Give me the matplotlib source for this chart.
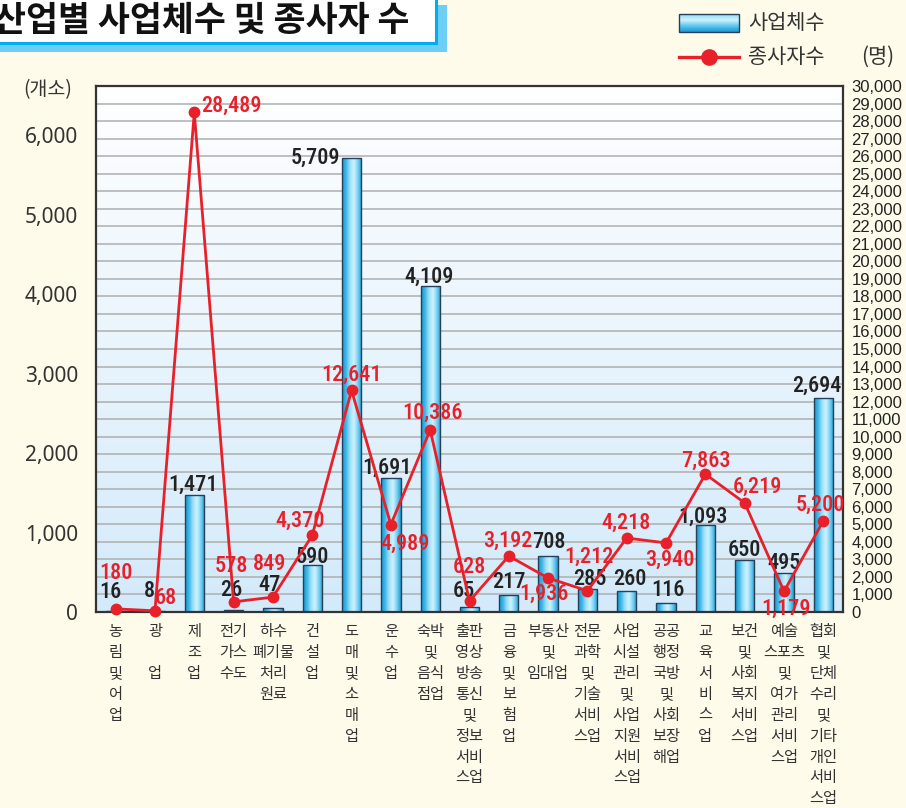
import os
import numpy as np
import matplotlib
matplotlib.use('Agg')
import matplotlib.pyplot as plt
from matplotlib import font_manager
from matplotlib.font_manager import FontProperties
from matplotlib.patches import Rectangle
from matplotlib.colors import LinearSegmentedColormap

# ---------------- data ----------------
categories = [
    "농\n림\n및\n어\n업", "광\n \n업", "제\n조\n업", "전기\n가스\n수도",
    "하수\n폐기물\n처리\n원료", "건\n설\n업", "도\n매\n및\n소\n매\n업", "운\n수\n업",
    "숙박\n및\n음식\n점업", "출판\n영상\n방송\n통신\n및\n정보\n서비\n스업",
    "금\n융\n및\n보\n험\n업", "부동산\n및\n임대업", "전문\n과학\n및\n기술\n서비\n스업",
    "사업\n시설\n관리\n및\n사업\n지원\n서비\n스업", "공공\n행정\n국방\n및\n사회\n보장\n해업",
    "교\n육\n서\n비\n스\n업", "보건\n및\n사회\n복지\n서비\n스업",
    "예술\n스포츠\n및\n여가\n관리\n서비\n스업",
    "협회\n및\n단체\n수리\n및\n기타\n개인\n서비\n스업",
]
establishments = [16, 8, 1471, 26, 47, 590, 5709, 1691, 4109, 65, 217, 708,
                  285, 260, 116, 1093, 650, 495, 2694]
workers = [180, 68, 28489, 578, 849, 4370, 12641, 4989, 10386, 628, 3192, 1936,
           1212, 4218, 3940, 7863, 6219, 1179, 5200]
left_ticks = [0, 1000, 2000, 3000, 4000, 5000, 6000]
right_ticks = list(range(0, 30001, 1000))
title = "산업별 사업체수 및 종사자 수"
legend_bar = "사업체수"
legend_line = "종사자수"
left_unit = "(개소)"
right_unit = "(명)"

# ---------------- layout / style ----------------
bar_lbl_off = [(-5, 19), (-6, 20), (-1, 10), (-2, 20), (-3, 23), (0, 8), (-11, 1),
               (-4, 10), (-1, 9), (-6, 16), (0, 13), (1, 14), (2, 10), (3, 12),
               (2, 13), (-2, 8), (0, 10), (0, 10), (-7, 12)]
bar_lbl_ha = ['center'] * 19
bar_lbl_ha[6] = 'right'
line_lbl_off = [(0, 36), (11, 13), (7, 7), (-2, 36), (-3, 33), (-12, 15), (0, 16),
                (14, -19), (2, 17), (0, 34), (-1, 15), (-4, -16), (1, 34), (-1, 15),
                (4, -17), (0, 13), (13, 16), (2, -17), (-3, 16)]
line_lbl_ha = ['center'] * 19
line_lbl_ha[2] = 'left'


def _w(f):
    w = f.weight
    if isinstance(w, str):
        w = font_manager.weight_dict.get(w, 400)
    return w


def pick_narrow():
    fl = [f for f in font_manager.fontManager.ttflist if f.style == 'normal']
    pref = ['Liberation Sans Narrow', 'Roboto Condensed', 'Arial Narrow',
            'Open Sans Condensed', 'Noto Sans Condensed', 'DejaVu Sans Condensed']
    for p in pref:
        c = [f for f in fl if f.name == p]
        if c:
            c.sort(key=lambda f: abs(_w(f) - 500))
            return c[0].fname
    c = [f for f in fl if ('Condensed' in os.path.basename(f.fname) or 'Narrow' in os.path.basename(f.fname)
                           or f.stretch in ('condensed', 'semi-condensed', 'extra-condensed'))]
    c = [f for f in c if 'Extra' not in os.path.basename(f.fname) and 'Semi' not in os.path.basename(f.fname)] or c
    if c:
        c.sort(key=lambda f: abs(_w(f) - 500))
        return c[0].fname
    return None


NARROW_FILE = pick_narrow()


def lblfont(size):
    if NARROW_FILE:
        return FontProperties(fname=NARROW_FILE, size=size)
    return FontProperties(family='Roboto', size=size - 1)


CJK = 'Noto Sans CJK KR'
plt.rcParams['font.family'] = [CJK, 'DejaVu Sans']

BG = '#FFFBEA'
RED = '#E8202A'
W, H = 906, 808
fig = plt.figure(figsize=(W / 100, H / 100), dpi=100, facecolor=BG)


def fx(x):
    return x / W


def fy(y):
    return 1 - y / H


L, R, T, B = 96, 843, 86, 612
ax = fig.add_axes([fx(L), fy(B), fx(R) - fx(L), fy(T) - fy(B)])
YL = 6620
x = np.arange(len(categories))

bg_cmap = LinearSegmentedColormap.from_list('bg', ['#FFFFFF', '#D3EAFA'])
ax.imshow(np.linspace(0, 1, 256).reshape(-1, 1), cmap=bg_cmap, extent=[0, 1, 0, 1],
          transform=ax.transAxes, aspect='auto', zorder=0)
for k in range(1, 30):
    ax.axhline(k * YL / 30, color='#AEAEAE', lw=1.1, zorder=1)

bar_cmap = LinearSegmentedColormap.from_list(
    'bar', ['#1894CC', '#3DB8EA', '#9EE0F8', '#CFF2FD', '#7AD3F4', '#1E9AD2'])
grad = np.linspace(0, 1, 64).reshape(1, -1)
bars = ax.bar(x, establishments, width=0.49, facecolor='none', edgecolor='#26405A',
              lw=1.0, zorder=3)
for rect in bars:
    x0 = rect.get_x()
    im = ax.imshow(grad, cmap=bar_cmap, extent=[x0, x0 + rect.get_width(), 0, rect.get_height()],
                   aspect='auto', zorder=2, interpolation='bilinear')
    im.set_clip_path(rect)

for i, v in enumerate(establishments):
    dx, dy = bar_lbl_off[i]
    ax.annotate(f'{v:,}', (i, v), xytext=(dx, dy), textcoords='offset pixels',
                ha=bar_lbl_ha[i], va='center', fontproperties=lblfont(16),
                color='#222222', zorder=6)

ax.set_xlim(-0.5, len(categories) - 0.5)
ax.set_ylim(0, YL)
ax.set_yticks(left_ticks)
ax.set_yticklabels([f'{v:,}' for v in left_ticks])
ax.tick_params(axis='y', length=0, pad=13, labelsize=15, labelcolor='#333333')
for lbl in ax.get_yticklabels():
    lbl.set_fontfamily('Noto Sans')
ax.set_xticks(x)
ax.set_xticklabels(categories, fontsize=11, linespacing=1.3, color='#333333', va='top')
ax.tick_params(axis='x', length=0, pad=8)
for s in ax.spines.values():
    s.set_color('#333333')
    s.set_linewidth(1.6)
    s.set_zorder(8)

ax2 = ax.twinx()
ax2.set_ylim(0, 30000)
ax2.set_yticks(right_ticks)
ax2.set_yticklabels([f'{v:,}' for v in right_ticks])
ax2.tick_params(axis='y', length=0, pad=6, labelsize=12, labelcolor='#222222')
for lbl in ax2.get_yticklabels():
    lbl.set_fontfamily('Liberation Sans')
for s in ax2.spines.values():
    s.set_visible(False)
ax2.plot(x, workers, color=RED, lw=2.0, marker='o', ms=7.5, zorder=5, clip_on=False)
for i, v in enumerate(workers):
    dx, dy = line_lbl_off[i]
    ax2.annotate(f'{v:,}', (i, v), xytext=(dx, dy), textcoords='offset pixels',
                 ha=line_lbl_ha[i], va='center', fontproperties=lblfont(16),
                 color=RED, zorder=7, annotation_clip=False)

ov = fig.add_axes([0, 0, 1, 1])
ov.patch.set_visible(False)
ov.axis('off')
ov.add_patch(Rectangle((0, 5), 447, 47, facecolor='#6DCFF6', edgecolor='none'))
ov.add_patch(Rectangle((-5, -5), 441, 48, facecolor='white', edgecolor='#00AEEF', lw=2.2))
ov.text(-6, 21, title, fontsize=25, weight=900, ha='left', va='center', color='#111111')

leg_cmap = LinearSegmentedColormap.from_list('leg', ['#8FDDF8', '#CFF2FD', '#5CC6F0', '#1A98D0'])
ov.imshow(np.linspace(0, 1, 64).reshape(-1, 1), cmap=leg_cmap, extent=[679, 739, 32, 14],
          aspect='auto', interpolation='bilinear')
ov.add_patch(Rectangle((679, 14), 60, 18, fill=False, edgecolor='#26405A', lw=1.0))
ov.plot([679, 739], [57, 57], color=RED, lw=2.4)
ov.plot([709], [57], 'o', color=RED, ms=11)
ov.text(748, 23, legend_bar, fontsize=15, ha='left', va='center', color='#333333')
ov.text(748, 57, legend_line, fontsize=15, ha='left', va='center', color='#333333')
ov.text(878, 57, right_unit, fontsize=15, ha='center', va='center', color='#333333')
ov.text(48, 90, left_unit, fontsize=14, ha='center', va='center', color='#333333')
ov.set_xlim(0, W)
ov.set_ylim(H, 0)

fig.savefig('out.png', dpi=100, facecolor=BG)
